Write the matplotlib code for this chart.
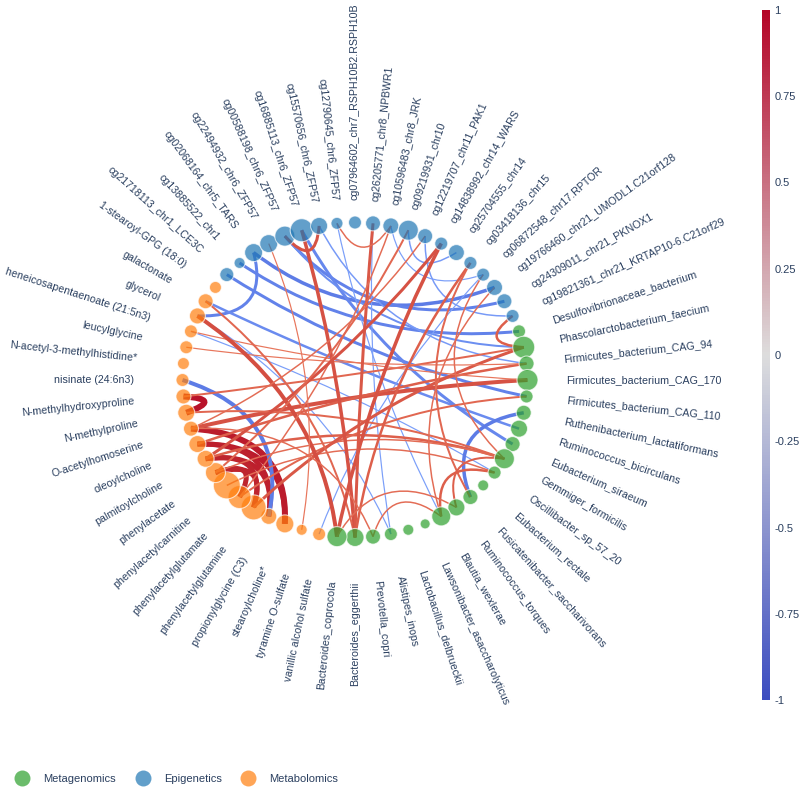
import numpy as np
import matplotlib.pyplot as plt
from matplotlib.path import Path
from matplotlib.patches import PathPatch
from matplotlib.colors import LinearSegmentedColormap, Normalize
from matplotlib.lines import Line2D
import matplotlib as mpl

plt.rcParams['font.family'] = ['Liberation Sans', 'DejaVu Sans']

# nodes, listed clockwise starting at the upper left
epigenetics = ['cg21718113_chr1_LCE3C', 'cg13885522_chr1', 'cg02068164_chr5_TARS',
               'cg22494932_chr6_ZFP57', 'cg00588198_chr6_ZFP57', 'cg16885113_chr6_ZFP57',
               'cg15570656_chr6_ZFP57', 'cg12790645_chr6_ZFP57',
               'cg07964602_chr7_RSPH10B2.RSPH10B', 'cg26205771_chr8_NPBWR1',
               'cg10596483_chr8_JRK', 'cg09219931_chr10', 'cg12219707_chr11_PAK1',
               'cg14838992_chr14_WARS', 'cg25704555_chr14', 'cg03418136_chr15',
               'cg06872548_chr17.RPTOR', 'cg19766460_chr21_UMODL1.C21orf128',
               'cg24309011_chr21_PKNOX1', 'cg19821361_chr21_KRTAP10-6.C21orf29']
epi_size = [14, 11, 18, 18, 20, 23, 17, 12, 13, 15, 16, 20, 15, 13, 16, 13, 13, 16, 15, 13]

metagenomics = ['Desulfovibrionaceae_bacterium', 'Phascolarctobacterium_faecium',
                'Firmicutes_bacterium_CAG_94', 'Firmicutes_bacterium_CAG_170',
                'Firmicutes_bacterium_CAG_110', 'Ruthenibacterium_lactatiformans',
                'Ruminococcus_bicirculans', 'Eubacterium_siraeum', 'Gemmiger_formicilis',
                'Oscillibacter_sp_57_20', 'Eubacterium_rectale',
                'Fusicatenibacter_saccharivorans', 'Ruminococcus_torques',
                'Blautia_wexlerae', 'Lawsonibacter_asaccharolyticus',
                'Lactobacillus_delbrueckii', 'Alistipes_inops', 'Prevotella_copri',
                'Bacteroides_eggerthii', 'Bacteroides_coprocola']
meta_size = [13, 22, 15, 21, 13, 15, 17, 15, 20, 13, 11, 15, 17, 19, 10, 11, 13, 15, 18, 20]

metabolomics = ['vanillic alcohol sulfate', 'tyramine O-sulfate', 'stearoylcholine*',
                'propionylglycine (C3)', 'phenylacetylglutamine', 'phenylacetylglutamate',
                'phenylacetylcarnitine', 'phenylacetate', 'palmitoylcholine',
                'oleoylcholine', 'O-acetylhomoserine', 'N-methylproline',
                'N-methylhydroxyproline', 'nisinate (24:6n3)',
                'N-acetyl-3-methylhistidine*', 'leucylglycine',
                'heneicosapentaenoate (21:5n3)', 'glycerol', 'galactonate',
                '1-stearoyl-GPG (18:0)']
metab_size = [13, 11, 18, 16, 25, 23, 27, 20, 17, 17, 15, 17, 15, 13, 12, 13, 13, 16, 15, 12]

# correlations: node index pairs (0-19 epigenetics, 20-39 metagenomics, 40-59 metabolomics)
edge_a = [52, 50, 49, 49, 48, 48, 47, 47,
          53, 57, 0, 58, 56, 2, 4, 1, 5, 4, 25, 11, 10, 12, 36, 40, 36, 33, 6,
          50, 49, 52, 48, 47, 46, 51, 45, 44, 56, 55, 57, 58, 38, 39, 38, 38, 37,
          10, 3, 13, 15, 19, 16, 12, 11, 4, 7, 33, 32, 33, 32, 17]
edge_b = [51, 42, 42, 43, 43, 44, 44, 45,
          43, 2, 24, 26, 29, 17, 18, 20, 27, 21, 31, 14, 16, 19, 57, 16, 9, 7, 22,
          23, 22, 21, 28, 28, 29, 28, 24, 21, 23, 22, 39, 38, 5, 13, 9, 15, 50,
          45, 41, 48, 31, 21, 28, 50, 47, 6, 10, 29, 28, 37, 39, 33]
edge_r = [0.97, 0.96, 0.96, 0.95, 0.95, 0.94, 0.94, 0.94,
          -0.78, -0.75, -0.75, -0.7, -0.6, -0.78, -0.75, -0.75, -0.72, -0.68, -0.78,
          -0.62, -0.6, -0.62, -0.6, -0.6, -0.6, -0.6, -0.62,
          0.8, 0.75, 0.72, 0.75, 0.7, 0.7, 0.72, 0.72, 0.78, 0.66, 0.66, 0.82,
          0.72, 0.8, 0.8, 0.78, 0.75, 0.7,
          0.7, 0.66, 0.8, 0.72, 0.75, 0.7, 0.7, 0.72, 0.8, 0.7, 0.75, 0.75,
          0.7, 0.7, 0.7]
# line widths in pixels
edge_w = [6, 6, 5, 5, 5, 5, 5, 5,
          4, 3, 3, 2.5, 1.2, 3.5, 3, 3, 3, 2, 3.5, 1.5, 1.2, 1.5, 1.2, 1.2, 1.2, 1.2, 1.5,
          4, 2.5, 2, 2.5, 1.5, 1.5, 2, 2, 3, 1.2, 1.2, 4, 2, 3.5, 3.5, 3, 2.5, 1.5,
          1.5, 1.2, 3, 2, 2.5, 1.5, 1.5, 2, 3, 1.5, 2.5, 2, 1.5, 1.5, 1.5]

groups = ['Metagenomics', 'Epigenetics', 'Metabolomics']
group_colors = {'Metagenomics': '#2ca02c', 'Epigenetics': '#1f77b4', 'Metabolomics': '#ff7f0e'}

names = epigenetics + metagenomics + metabolomics
sizes = np.array(epi_size + meta_size + metab_size)
kinds = ['Epigenetics'] * 20 + ['Metagenomics'] * 20 + ['Metabolomics'] * 20

# layout (pixel space)
cx, cy, rx, ry = 355, 380, 172.5, 157.5
ang = 138 - 6 * np.arange(len(names))
ang = np.where(ang <= -180, ang + 360, ang)
th = np.radians(ang)
xs = cx + rx * np.cos(th)
ys = cy - ry * np.sin(th)

fig = plt.figure(figsize=(8, 8), dpi=100)
ax = fig.add_axes([0, 0, 1, 1])
ax.set_xlim(0, 800)
ax.set_ylim(800, 0)
ax.axis('off')

edge_cmap = mpl.colormaps['coolwarm']
norm = Normalize(-1, 1)

for a, b, r, w in zip(edge_a, edge_b, edge_r, edge_w):
    d = abs(ang[a] - ang[b]) % 360
    d = min(d, 360 - d)
    f = max(0.4, 0.8 - 0.3 * d / 60)
    mx, my = (xs[a] + xs[b]) / 2, (ys[a] + ys[b]) / 2
    ctrl = (cx + f * (mx - cx), cy + f * (my - cy))
    path = Path([(xs[a], ys[a]), ctrl, (xs[b], ys[b])],
                [Path.MOVETO, Path.CURVE3, Path.CURVE3])
    ax.add_patch(PathPatch(path, facecolor='none', edgecolor=edge_cmap(norm(r)),
                           lw=w * 0.72, zorder=1, capstyle='butt'))

ax.scatter(xs, ys, s=(sizes * 0.72) ** 2, c=[group_colors[k] for k in kinds],
           alpha=0.7, edgecolors='white', linewidths=0.8, zorder=3)

# radial labels
for x, y, a, name in zip(xs, ys, ang, names):
    t = np.radians(a)
    off = 43.5 - 4.5 * np.cos(t) - 11 * np.sin(t) - 10.5 * np.sin(t) ** 2
    lx, ly = x + off * np.cos(t), y - off * np.sin(t)
    if -90 < a <= 90:
        rot, ha = a, 'left'
    elif a > 90:
        rot, ha = a - 180, 'right'
    else:
        rot, ha = a + 180, 'right'
    ax.text(lx, ly, name, rotation=rot, rotation_mode='anchor', ha=ha, va='center',
            fontsize=7.7, color='#2a3f5f')

# colorbar
bar_cmap = LinearSegmentedColormap.from_list(
    'bar', [(59 / 255, 76 / 255, 192 / 255), (221 / 255, 221 / 255, 221 / 255),
            (180 / 255, 4 / 255, 38 / 255)])
cax = fig.add_axes([762 / 800, 1 - 700 / 800, 8 / 800, 690 / 800])
cb = fig.colorbar(mpl.cm.ScalarMappable(norm=norm, cmap=bar_cmap), cax=cax)
ticks = [-1, -0.75, -0.5, -0.25, 0, 0.25, 0.5, 0.75, 1]
cb.set_ticks(ticks)
cb.set_ticklabels(['-1', '-0.75', '-0.5', '-0.25', '0', '0.25', '0.5', '0.75', '1'])
cb.outline.set_visible(False)
cax.tick_params(length=0, pad=3, labelsize=8, labelcolor='#2a3f5f')

# legend
handles = [Line2D([], [], marker='o', ls='', markersize=11.5, alpha=0.7,
                  markerfacecolor=group_colors[g], markeredgecolor='none', label=g)
           for g in groups]
fig.legend(handles=handles, loc='lower left', bbox_to_anchor=(0.014, 0.02), ncol=3,
           frameon=False, fontsize=8, labelcolor='#2a3f5f', borderaxespad=0,
           borderpad=0, handlelength=2, handletextpad=0.9, columnspacing=1.4)

fig.savefig('out.png', dpi=100)
